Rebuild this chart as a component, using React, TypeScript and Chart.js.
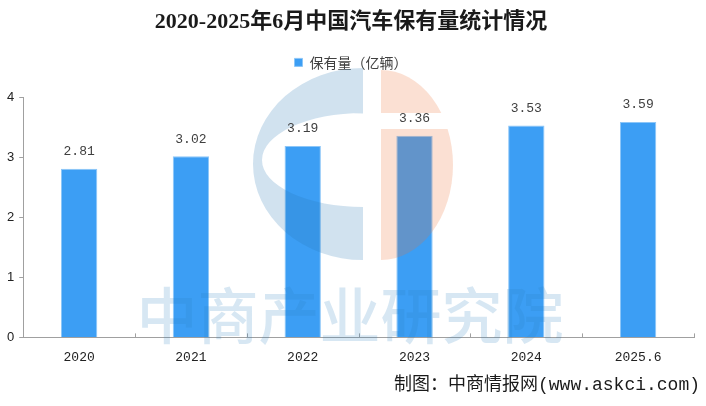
import { useEffect, useRef } from "react";
import { Chart, registerables, layouts } from "chart.js";

Chart.register(...registerables);

const categories = ["2020", "2021", "2022", "2023", "2024", "2025.6"];
const holdings = [2.81, 3.02, 3.19, 3.36, 3.53, 3.59];
const yMin = 0;
const yMax = 4;
const yStep = 1;
const seriesName = "保有量（亿辆）";
const titleText = "2020-2025年6月中国汽车保有量统计情况";
const footerText = "制图：中商情报网(www.askci.com)";
const watermarkText = "中商产业研究院";

const BAR_COLOR = "#3c9ef4";
const AXIS_COLOR = "#a0a0a0";
const MONO = '"Liberation Mono", "Noto Sans CJK SC", monospace';

// empty layout box that keeps a gap between the legend and the plot
const spacerPlugin = {
  id: "spacer",
  beforeInit(chart: any) {
    const box: any = {
      position: "top",
      weight: -10,
      fullSize: true,
      options: {},
      left: 0,
      top: 0,
      right: 0,
      bottom: 0,
      width: 0,
      height: 0,
      isHorizontal() {
        return true;
      },
      update(maxWidth: number) {
        this.width = maxWidth;
        this.height = 18;
        return { width: maxWidth, height: 18 };
      },
      getPadding() {
        return { left: 0, right: 0, top: 0, bottom: 0 };
      },
      draw() {},
    };
    layouts.addBox(chart, box);
  },
};

const overlayPlugin = {
  id: "overlay",
  afterDatasetsDraw(chart: any) {
    const ctx = chart.ctx as CanvasRenderingContext2D;
    const { left, right, bottom } = chart.chartArea;
    ctx.save();

    // x-axis tick marks pointing up, at category boundaries
    ctx.strokeStyle = AXIS_COLOR;
    ctx.lineWidth = 1;
    const n = categories.length;
    const step = (right - left) / n;
    for (let i = 1; i <= n; i++) {
      const x = Math.round(left + i * step) + 0.5;
      ctx.beginPath();
      ctx.moveTo(x, bottom);
      ctx.lineTo(x, bottom - 4);
      ctx.stroke();
    }

    // logo watermark: blue "C"
    ctx.fillStyle = "rgba(40,120,180,0.21)";
    ctx.beginPath();
    ctx.ellipse(363, 164, 110, 96, 0, Math.PI / 2, Math.PI * 1.5);
    ctx.closePath();
    ctx.moveTo(363, 113);
    ctx.ellipse(363, 160, 101, 47, 0, Math.PI * 1.5, Math.PI / 2, true);
    ctx.closePath();
    ctx.fill("evenodd");

    // logo watermark: orange "i"
    ctx.save();
    ctx.beginPath();
    ctx.rect(381, 0, 200, 113);
    ctx.rect(381, 129, 200, 300);
    ctx.clip();
    ctx.fillStyle = "rgba(236,114,55,0.22)";
    ctx.beginPath();
    ctx.ellipse(381, 165, 72, 95, 0, -Math.PI / 2, Math.PI / 2);
    ctx.closePath();
    ctx.fill();
    ctx.restore();

    // text watermark
    ctx.fillStyle = "rgba(40,130,190,0.19)";
    ctx.font = '500 61px "Noto Sans CJK SC"';
    ctx.textAlign = "center";
    ctx.textBaseline = "middle";
    ctx.fillText(watermarkText, 350, 316);

    // value labels
    const meta = chart.getDatasetMeta(0);
    ctx.fillStyle = "#404040";
    ctx.font = `13px ${MONO}`;
    ctx.textAlign = "center";
    ctx.textBaseline = "middle";
    meta.data.forEach((el: any, i: number) => {
      ctx.fillText(holdings[i].toFixed(2), el.x, el.y - 17);
    });

    ctx.restore();
  },
};

export default function App() {
  const canvasRef = useRef<HTMLCanvasElement | null>(null);

  useEffect(() => {
    document.body.style.margin = "0";
    const canvas = canvasRef.current;
    if (!canvas) return;
    const chart = new Chart(canvas, {
      type: "bar",
      data: {
        labels: categories,
        datasets: [
          {
            label: seriesName,
            data: holdings,
            backgroundColor: BAR_COLOR,
            borderColor: "#8cc6f8",
            borderWidth: 1,
            categoryPercentage: 1,
            barPercentage: 0.325,
          },
        ],
      },
      options: {
        animation: false,
        responsive: false,
        maintainAspectRatio: false,
        devicePixelRatio: 1,
        layout: { padding: { left: 2, right: 6, top: 0, bottom: 10 } },
        plugins: {
          title: {
            display: true,
            text: titleText,
            color: "#1a1a1a",
            font: { family: '"Liberation Serif", "Noto Sans CJK SC"', size: 22, weight: "bold" },
            padding: { top: 9, bottom: 8 },
          },
          legend: {
            display: true,
            position: "top",
            labels: {
              boxWidth: 8,
              boxHeight: 8,
              color: "#404040",
              font: { family: '"Noto Sans CJK SC"', size: 14 },
              padding: 12,
            },
          },
          subtitle: {
            display: true,
            position: "bottom",
            align: "end",
            text: footerText,
            color: "#1a1a1a",
            font: { family: MONO, size: 18 },
            padding: { top: 0, bottom: 0 },
          },
          tooltip: { enabled: false },
        },
        scales: {
          x: {
            offset: true,
            grid: { display: false, drawTicks: false },
            border: { display: true, color: AXIS_COLOR, width: 1 },
            ticks: {
              color: "#222",
              font: { family: MONO, size: 13 },
              padding: 12,
              maxRotation: 0,
            },
            afterFit(scale: any) {
              scale.height = 37;
              scale.paddingRight = 12;
            },
          },
          y: {
            min: yMin,
            max: yMax,
            ticks: {
              stepSize: yStep,
              color: "#222",
              font: { family: '"Liberation Sans"', size: 13 },
              padding: 5,
            },
            grid: {
              display: true,
              drawOnChartArea: false,
              drawTicks: true,
              tickLength: 4,
              color: AXIS_COLOR,
            },
            border: { display: true, color: AXIS_COLOR, width: 1 },
          },
        },
      },
      plugins: [spacerPlugin, overlayPlugin],
    });
    return () => chart.destroy();
  }, []);

  return (
    <div style={{ width: 706, height: 406 }}>
      <canvas ref={canvasRef} width={706} height={406} style={{ display: "block" }} />
    </div>
  );
}
